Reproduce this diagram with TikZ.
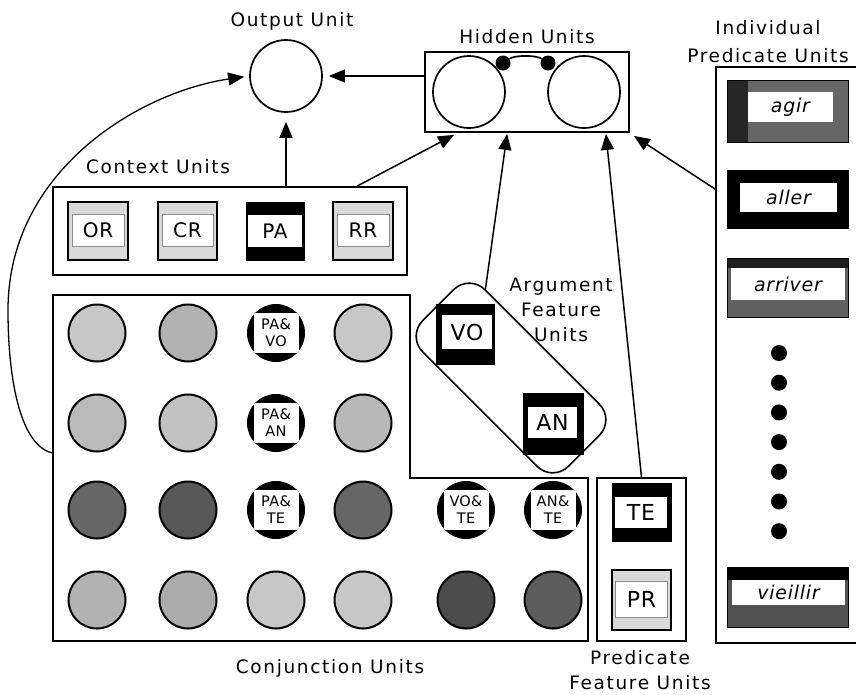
\documentclass[tikz,border=0pt]{standalone}
\usepackage{fontspec}
\usetikzlibrary{arrows.meta,calc}
\newfontfamily\labfont{DejaVu Sans}[LetterSpace=9]
\newfontfamily\unitfont{DejaVu Sans}[LetterSpace=4]
\newfontfamily\circfont{DejaVu Sans}[LetterSpace=2]
\newcommand\ctxtxt{\unitfont\fontsize{20}{22}\selectfont}
\newcommand\bigtxt{\unitfont\fontsize{22}{24}\selectfont}
\newcommand\itxt{\unitfont\itshape\fontsize{19}{21}\selectfont}
% dark unit box: name, centre, w, h, fill, inner centre, iw, ih, text
\newcommand\ubox[9]{%
  \node[draw, line width=1pt, fill=#5, minimum width=#3pt, minimum height=#4pt, inner sep=0] (#1) at (#2) {};
  \node[fill=white, minimum width=#7pt, minimum height=#8pt, inner sep=0] (#1in) at (#6) {#9};
}
% light unit box
\newcommand\lbox[9]{%
  \node[draw, line width=1.8pt, fill=#5, minimum width=#3pt, minimum height=#4pt, inner sep=0] (#1) at (#2) {};
  \node[fill=white, draw=black!45, line width=0.8pt, minimum width=#7pt, minimum height=#8pt, inner sep=0] (#1in) at (#6) {#9};
}
\begin{document}
\begin{tikzpicture}[x=1pt,y=-1pt,
  lab/.style={font=\labfont\fontsize{18.5}{25}\selectfont, inner sep=0, align=center},
  arr/.style={-{Triangle[length=16pt,width=13pt]}, line width=1.5pt},
  frame/.style={draw, line width=1.8pt, inner sep=0},
  unitc/.style={circle, draw, line width=2pt, minimum size=57pt, inner sep=0},
  ctxt/.style={font=\circfont\fontsize{14.5}{17}\selectfont, align=center, inner sep=0}]
\useasboundingbox (0,0) rectangle (856,694);
\clip (0,0) rectangle (856,694);

% ---------- labels ----------
\node[lab] (lout) at (292,21) {Output Unit};
\node[lab] (lhid) at (527,37) {Hidden Units};
\node[lab] (lind) at (768,28) {Individual};
\node[lab] (lpred) at (768,56) {Predicate Units};
\node[lab] (lctx) at (158,167) {Context Units};
\node[lab] (larg) at (561,310) {Argument\\Feature\\Units};
\node[lab] (lconj) at (330,668) {Conjunction Units};
\node[lab] (lpf) at (640,670) {Predicate\\Feature Units};

% ---------- output unit ----------
\node[circle, draw, line width=1.7pt, minimum size=72pt, inner sep=0] (out) at (286,76) {};

% ---------- hidden units ----------
\node[frame, minimum width=204pt, minimum height=80pt] (hid) at (527,92) {};
\node[circle, draw, line width=1.7pt, minimum size=72pt, inner sep=0] (h1) at (469,92) {};
\node[circle, draw, line width=1.7pt, minimum size=72pt, inner sep=0] (h2) at (584,92) {};
\node[circle, fill, minimum size=15pt, inner sep=0] (d1) at (503,63) {};
\node[circle, fill, minimum size=15pt, inner sep=0] (d2) at (548,63) {};
\draw[line width=1.7pt] (d1) .. controls (515,55) and (536,55) .. (d2);

% ---------- context units ----------
\node[frame, minimum width=354pt, minimum height=88pt] (ctx) at (230,231) {};
\lbox{uor}{98,231}{60}{58}{black!15}{98,230}{52}{32}{\ctxtxt OR}
\lbox{ucr}{187.5,231}{59}{58}{black!15}{187.5,230}{51}{32}{\ctxtxt CR}
\ubox{upa}{275,231}{58}{58}{black}{275,231}{54}{32}{\ctxtxt PA}
\lbox{urr}{363,231}{60}{58}{black!15}{363,230}{52}{32}{\ctxtxt RR}

% ---------- conjunction units ----------
\draw[line width=1.8pt] (53,295) -- (410,295) -- (410,478) -- (588,478) -- (588,641) -- (53,641) -- cycle;
\coordinate (conjW) at (53,453);
\foreach \n/\x/\y/\g in {c11/97/333/22, c12/188/333/30, c14/363/333/22,
                         c21/97/423/27, c22/188/423/24, c24/363/423/28,
                         c31/97/510/60, c32/188/510/66, c34/363/510/60,
                         c41/97/600/30, c42/188/600/33, c43/276/600/22, c44/363/600/22,
                         c45/466/600/70, c46/553/600/64}
  \node[unitc, fill=black!\g] (\n) at (\x,\y) {};
\foreach \n/\x/\y/\t in {s13/276/333/{PA\&\\VO}, s23/276/423/{PA\&\\AN}, s33/276/510/{PA\&\\TE},
                         s35/466/510/{VO\&\\TE}, s36/553/510/{AN\&\\TE}}{
  \node[circle, fill=black, minimum size=58pt, inner sep=0] (\n) at (\x,\y) {};
  \begin{scope}
    \clip (\x,\y) circle (29);
    \node[fill=white, minimum width=45pt, minimum height=40pt, inner sep=0] at (\x,\y) {};
  \end{scope}
  \node[ctxt] at (\x,\y) {\t};
}

% ---------- argument feature units ----------
\node[draw, line width=1.6pt, rounded corners=22pt, minimum width=206pt, minimum height=88pt, rotate=-45] (argf) at (511,378) {};
\ubox{uvo}{465,334}{58}{60}{black}{467,332}{50}{34}{\bigtxt VO}
\ubox{uan}{553,423.5}{60}{61}{black}{552.5,422.5}{49}{31}{\bigtxt AN}

% ---------- predicate feature units ----------
\node[frame, minimum width=89pt, minimum height=163pt] (predf) at (641.5,559.5) {};
\ubox{ute}{641.5,512}{59}{58}{black}{641,512.5}{52}{31}{\bigtxt TE}
\lbox{upr}{641.5,600}{59}{60}{black!15}{641.5,599}{52}{36}{\bigtxt PR}

% ---------- individual predicate units ----------
\node[frame, minimum width=150pt, minimum height=576pt] (indiv) at (791,355) {};
\ubox{uagir}{787.5,111}{121}{62}{black!60}{790.5,107}{85}{30}{\itxt agir}
\fill[black!85] (727.5,80.5) rectangle (748,141.5);
\ubox{ualler}{787.5,199}{121}{58}{black}{788.5,197.5}{97}{29}{\itxt aller}
\ubox{uarr}{787.5,287.5}{121}{59}{black!62}{788,284}{114}{32}{\itxt arriver}
\fill[black!88] (727.5,258.5) rectangle (847.5,268);
\ubox{uvie}{787.5,597}{121}{60}{black!68}{788.5,592.5}{113}{25}{\itxt vieillir}
\fill[black] (727.5,567.5) rectangle (847.5,580);
\foreach \k in {0,...,6}
  \fill (779,{353+29.7*\k}) circle (8);

% ---------- connectors ----------
\draw[arr, shorten >=6pt] (hid.west |- out.east) -- (out.east);
\draw[arr, shorten >=9pt] (ctx.north -| out.south) -- (out.south);
\draw[arr] ($(ctx.north west)+(305,0)$) -- ($(hid.south west)+(30,2)$);
\draw[arr] ($(argf.north west)!0.11!(argf.north east)$) -- ($(hid.south west)+(83,1)$);
\draw[arr] (predf.north) -- ($(hid.south east)+(-24,1)$);
\draw[arr] ($(indiv.north west)+(0,123)$) -- ($(hid.south east)+(4,3)$);
\draw[arr, line width=1.3pt, shorten >=5pt] (conjW) .. controls (22,447) and (8,385) .. (8,310)
      .. controls (8,170) and (140,92) .. (out.west);
\end{tikzpicture}
\end{document}
